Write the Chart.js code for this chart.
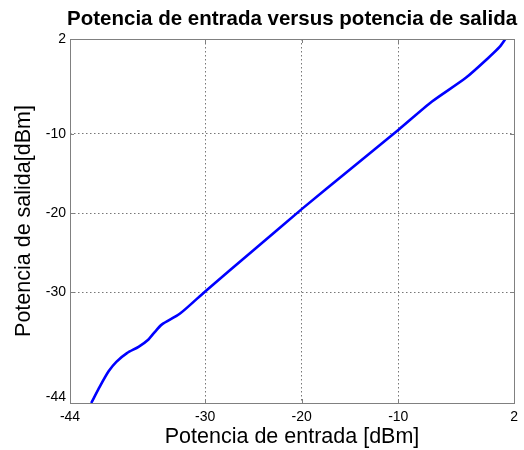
<!DOCTYPE html>
<html>
<head>
<meta charset="utf-8">
<script src="https://cdn.jsdelivr.net/npm/chart.js@4"></script>
<style>
  html, body { margin: 0; padding: 0; background: #ffffff; }
  #wrap { width: 524px; height: 450px; position: relative; }
</style>
</head>
<body>
<div id="wrap"><canvas id="c" width="524" height="450"></canvas></div>
<script>
// ---- data ----
const inputPower  = [-41.8, -40.9, -40.0, -39.2, -38.1, -36.9, -35.9, -35.2, -34.5, -32.6, -30.0, -25, -20, -15, -10, -6.5, -3, -0.6, 0.5, 1.1];
const outputPower = [-44.0, -41.9, -40.0, -38.8, -37.7, -36.9, -36.0, -35.0, -34.1, -32.7, -29.9, -24.7, -19.5, -14.5, -9.5, -5.9, -2.9, -0.3, 1.0, 2.0];
const xTicks = [-44, -30, -20, -10, 2];
const yTicks = [-44, -30, -20, -10, 2];
const chartTitle = 'Potencia de entrada versus potencia de salida';
const xTitle = 'Potencia de entrada [dBm]';
const yTitle = 'Potencia de salida[dBm]';

const FONT = '"Liberation Sans", Arial, Helvetica, sans-serif';
const AXIS_GRAY = '#808080';

const points = inputPower.map((x, i) => ({ x: x, y: outputPower[i] }));

const boxPlugin = {
  id: 'matlabBox',
  afterDraw(chart) {
    const { ctx, chartArea: a, scales } = chart;
    ctx.save();
    ctx.strokeStyle = AXIS_GRAY;
    ctx.lineWidth = 1;
    ctx.beginPath();
    const tl = 4;
    xTicks.forEach(v => {
      const px = Math.round(scales.x.getPixelForValue(v)) + 0.5;
      ctx.moveTo(px, a.bottom); ctx.lineTo(px, a.bottom - tl);
      ctx.moveTo(px, a.top); ctx.lineTo(px, a.top + tl);
    });
    yTicks.forEach(v => {
      const py = Math.round(scales.y.getPixelForValue(v)) + 0.5;
      ctx.moveTo(a.left, py); ctx.lineTo(a.left + tl, py);
      ctx.moveTo(a.right, py); ctx.lineTo(a.right - tl, py);
    });
    ctx.stroke();
    ctx.strokeRect(Math.round(a.left) + 0.5, Math.round(a.top) + 0.5,
                   Math.round(a.right - a.left), Math.round(a.bottom - a.top));
    ctx.fillStyle = '#000';
    ctx.font = 'bold 20.5px ' + FONT;
    ctx.textAlign = 'center';
    ctx.textBaseline = 'alphabetic';
    ctx.fillText(chartTitle, (a.left + a.right) / 2, 25);
    ctx.restore();
  }
};

const bgPlugin = {
  id: 'bg',
  beforeDraw(chart) {
    const ctx = chart.ctx;
    ctx.save();
    ctx.fillStyle = '#ffffff';
    ctx.fillRect(0, 0, chart.width, chart.height);
    ctx.restore();
  }
};

const gridColor = ctx => (ctx.tick && (ctx.tick.value === -44 || ctx.tick.value === 2)) ? 'rgba(0,0,0,0)' : '#777777';

new Chart(document.getElementById('c'), {
  type: 'scatter',
  data: {
    datasets: [{
      data: points,
      showLine: true,
      borderColor: '#0000ff',
      backgroundColor: '#0000ff',
      borderWidth: 2.6,
      pointRadius: 0,
      tension: 0.25,
      fill: false
    }]
  },
  options: {
    responsive: false,
    animation: false,
    devicePixelRatio: 1,
    layout: { padding: { top: 39, right: 9, left: 0, bottom: 0 } },
    plugins: {
      legend: { display: false },
      title: { display: false },
      tooltip: { enabled: false }
    },
    scales: {
      x: {
        type: 'linear',
        position: 'bottom',
        min: -44, max: 2,
        afterBuildTicks: s => { s.ticks = xTicks.map(v => ({ value: v })); },
        afterFit: s => { s.height = 47; },
        ticks: {
          autoSkip: false, maxRotation: 0,
          padding: 6,
          color: '#000',
          font: { family: FONT, size: 14 },
          callback: v => String(v)
        },
        grid: { color: gridColor, lineWidth: 1, drawTicks: false },
        border: { display: false, dash: [1.5, 2.5] },
        title: {
          display: true, text: xTitle, color: '#000',
          font: { family: FONT, size: 21.5 },
          padding: { top: 0, bottom: 0 }
        }
      },
      y: {
        type: 'linear',
        position: 'left',
        min: -44, max: 2,
        afterBuildTicks: s => { s.ticks = yTicks.map(v => ({ value: v })); },
        afterFit: s => { s.width = 70; },
        ticks: {
          autoSkip: false,
          padding: 4,
          color: '#000',
          font: ctx => (ctx.tick && ctx.tick.value === -44)
            ? { family: FONT, size: 14, lineHeight: 0.8 }
            : { family: FONT, size: 14 },
          callback: v => (v === -44 ? ['-44', ''] : String(v))
        },
        grid: { color: gridColor, lineWidth: 1, drawTicks: false },
        border: { display: false, dash: [1.5, 2.5] },
        title: {
          display: true, text: yTitle, color: '#000',
          font: { family: FONT, size: 21.5 },
          padding: { top: 11, bottom: 0 }
        }
      }
    }
  },
  plugins: [bgPlugin, boxPlugin]
});
</script>
</body>
</html>
